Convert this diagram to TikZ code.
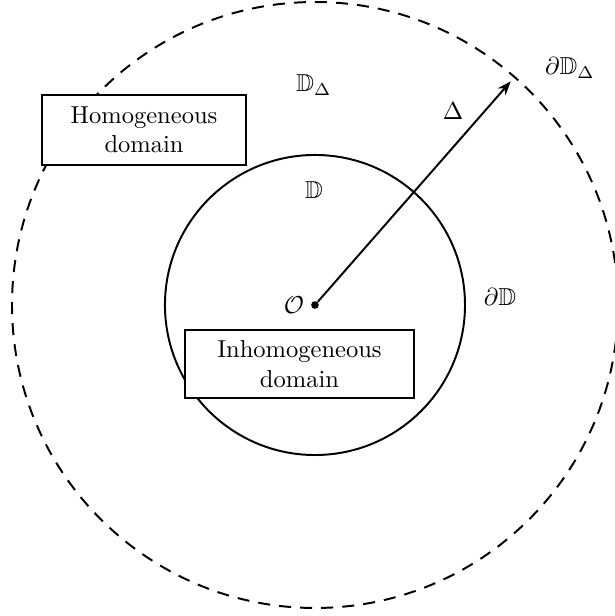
\documentclass[tikz,border=0pt]{standalone}
\usepackage{amsmath,amssymb}
\IfFileExists{bbm.sty}{\usepackage{bbm}\newcommand{\dom}{\mathbbm{D}}}{\newcommand{\dom}{\mathbb{D}}}
\usepackage{tikz}
\usetikzlibrary{arrows.meta,positioning}

\begin{document}
\begin{tikzpicture}[
    domain/.style={rectangle, draw, thick, fill=white, align=center, minimum width=#1, minimum height=1cm, inner sep=2pt},
    arr/.style={-{Stealth[length=2mm]}, thick}
]
  \useasboundingbox (-4.514,-4.457) rectangle (4.299,4.371);
  % outer and inner circles
  \draw[thick, dash pattern=on 4.9pt off 3.7pt] (0,0) circle (4.342cm);
  \draw[thick] (0,0) circle (2.15cm);

  \node[circle, fill, inner sep=1.1pt] (O) at (0,0) {};
  \node[left=0.5pt of O, inner sep=2pt] (Olab) {$\mathcal{O}$};
  \coordinate (R) at (48.8:4.26);
  \draw[arr] (O) -- (R);

  \node[domain=2.923cm] (hom) at (-2.45,2.508) {Homogeneous\\domain};
  \node[domain=3.28cm, minimum height=0.974cm] (inhom) at (-0.222,-0.845) {Inhomogeneous\\domain};

  \node (DD) at (-0.014,3.152) {$\dom_\Delta$};
  \node (bDD) at (3.654,3.396) {$\partial\dom_\Delta$};
  \node (delta) at (1.978,2.78) {$\Delta$};
  \node (D) at (-0.014,1.648) {$\dom$};
  \node (bD) at (2.651,0.115) {$\partial\dom$};
\end{tikzpicture}
\end{document}
